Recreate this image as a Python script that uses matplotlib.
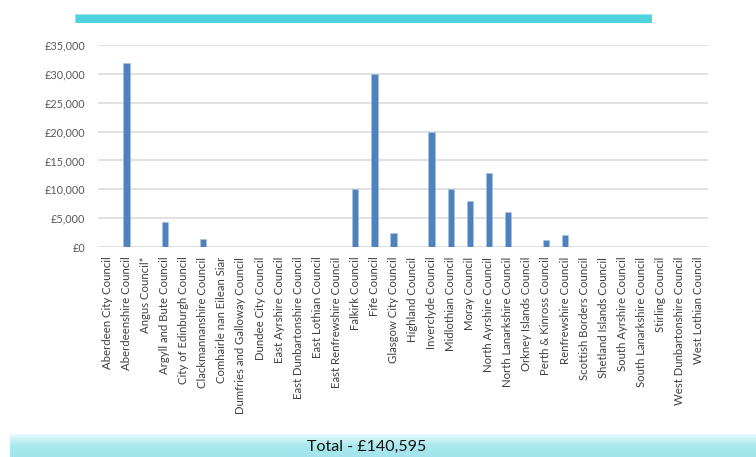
import matplotlib
matplotlib.use("Agg")
import matplotlib.pyplot as plt
import numpy as np
from matplotlib.ticker import FuncFormatter
from matplotlib.colors import LinearSegmentedColormap

councils = [
    "Aberdeen City Council", "Aberdeenshire Council", "Angus Council*",
    "Argyll and Bute Council", "City of Edinburgh Council",
    "Clackmannanshire Council", "Comhairle nan Eilean Siar",
    "Dumfries and Galloway Council", "Dundee City Council",
    "East Ayrshire Council", "East Dunbartonshire Council",
    "East Lothian Council", "East Renfrewshire Council", "Falkirk Council",
    "Fife Council", "Glasgow City Council", "Highland Council",
    "Inverclyde Council", "Midlothian Council", "Moray Council",
    "North Ayrshire Council", "North Lanarkshire Council",
    "Orkney Islands Council", "Perth & Kinross Council",
    "Renfrewshire Council", "Scottish Borders Council",
    "Shetland Islands Council", "South Ayrshire Council",
    "South Lanarkshire Council", "Stirling Council",
    "West Dunbartonshire Council", "West Lothian Council",
]
amounts = [0, 31900, 0, 4400, 0, 1400, 0, 0, 0, 0, 0, 0, 0, 10000, 30000,
           2500, 0, 20000, 10000, 8000, 12800, 6000, 0, 1200, 2000,
           0, 0, 0, 0, 0, 0, 0]
y_ticks = [0, 5000, 10000, 15000, 20000, 25000, 30000, 35000]
total_label = "Total - £140,595"

W, H = 756, 457
fig = plt.figure(figsize=(W / 100, H / 100), dpi=100)
fig.patch.set_facecolor("white")

font = ["Lato", "DejaVu Sans"]

# Main axes
ax = fig.add_axes([98 / W, 1 - 247 / H, (708 - 98) / W, (247 - 45) / H])
x = np.arange(len(councils))
ax.bar(x, amounts, width=0.33, color="#4F81BD", edgecolor="#A9C4E6",
       linewidth=0.4, zorder=3)
ax.set_xlim(-0.5, len(councils) - 0.5)
ax.set_ylim(0, 35000)
ax.set_yticks(y_ticks)
ax.yaxis.set_major_formatter(FuncFormatter(lambda v, p: f"£{int(v):,}"))
ax.grid(axis="y", color="#D9D9D9", linewidth=1.1, zorder=0)
for s in ax.spines.values():
    s.set_visible(False)
ax.tick_params(axis="both", length=0, colors="#595959")
ax.set_xticks(x)
ax.set_xticklabels(councils, rotation=90, fontsize=8.2, family=font,
                   color="#404040")
for lbl in ax.get_yticklabels():
    lbl.set_fontsize(7.8)
    lbl.set_family(font)
    lbl.set_color("#595959")
ax.tick_params(axis="x", pad=7)
ax.tick_params(axis="y", pad=9)

# Top cyan band
top = fig.add_axes([75 / W, 1 - 23 / H, (652 - 75) / W, 9 / H])
top.set_axis_off()
top.add_patch(plt.Rectangle((0, 0), 1, 1, transform=top.transAxes,
                            facecolor="#4FD4DE", edgecolor="#9BE6EC",
                            linewidth=0.6))

# Bottom gradient band
bot = fig.add_axes([10 / W, 0, (W - 10) / W, 23 / H])
bot.set_axis_off()
grad = np.linspace(0, 1, 64).reshape(-1, 1)
cmap = LinearSegmentedColormap.from_list("c", ["#E6FBFD", "#A9E8EE", "#A3E4EC"])
bot.imshow(grad, aspect="auto", cmap=cmap, extent=[0, 1, 0, 1], origin="upper")
bot.set_xlim(0, 1)
bot.set_ylim(0, 1)
bot.text((367 - 10) / (W - 10), 0.45, total_label, ha="center", va="center",
         fontsize=11.5, family=font, color="#111111")

fig.savefig("out.png", dpi=100)
